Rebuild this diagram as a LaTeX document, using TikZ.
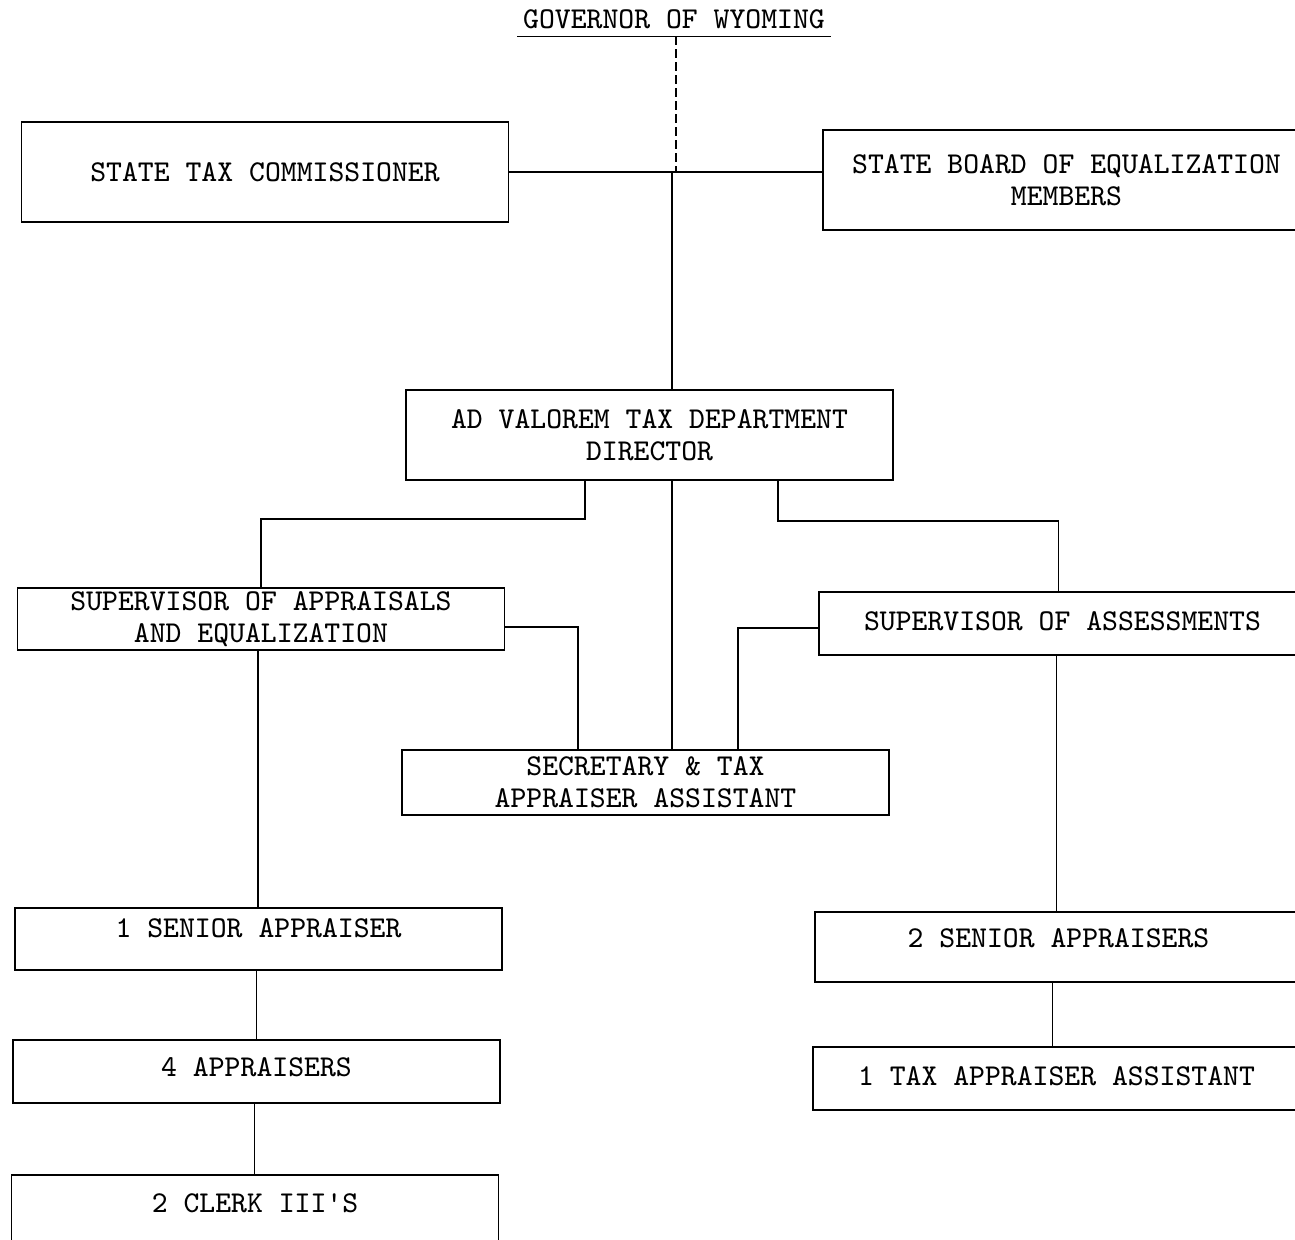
\documentclass[tikz,border=0pt]{standalone}
\usepackage{tikz}
\usetikzlibrary{calc,positioning}
\tikzset{
  org/.style={rectangle,draw=black,line width=0.45pt,minimum width=4.87cm,inner sep=0pt,align=center,font=\ttfamily\fontsize{8.6}{9}\selectfont},
  lift/.style={text depth=#1},
  link/.style={line width=0.45pt,black},
  dot/.style={line width=0.55pt,black,dash pattern=on 2.4pt off 1.3pt},
}
\begin{document}
\begin{tikzpicture}[x=0.01cm,y=-0.01cm]
  \useasboundingbox (0,0) rectangle (1295,1239);
  \clip (0,0) rectangle (1295,1239);
  \node[font=\ttfamily\fontsize{8.6}{9}\selectfont,inner xsep=1.5pt,inner ysep=2pt](gov) at (674,19){GOVERNOR OF WYOMING};
  \draw[link] (gov.south west)--(gov.south east);
  \node[org,minimum height=1cm](stc) at (265,172){STATE TAX COMMISSIONER};
  \node[org,minimum height=1cm](sbe) at (1066.5,180){STATE BOARD OF EQUALIZATION\\MEMBERS};
  \node[org,minimum height=0.9cm](dir) at (649.5,435){AD VALOREM TAX DEPARTMENT\\DIRECTOR};
  \node[org,minimum height=0.62cm](sa) at (261,619){SUPERVISOR OF APPRAISALS\\AND EQUALIZATION};
  \node[org,minimum height=0.63cm,lift=1.2pt](ss) at (1062.5,623.5){SUPERVISOR OF ASSESSMENTS};
  \node[org,minimum height=0.65cm](sec) at (645.5,782.5){SECRETARY \& TAX\\APPRAISER ASSISTANT};
  \node[org,minimum height=0.62cm,lift=6.2pt](sen1) at (258.5,939){1 SENIOR APPRAISER};
  \node[org,minimum height=0.63cm,lift=2.8pt](app4) at (256.5,1071.5){4 APPRAISERS};
  \node[org,minimum height=0.7cm,lift=4pt](clk) at (255,1210){2 CLERK III'S};
  \node[org,minimum height=0.7cm,lift=5pt](sen2) at (1058.5,947){2 SENIOR APPRAISERS};
  \node[org,minimum height=0.63cm,lift=1.2pt](tax1) at (1056.5,1078.5){1 TAX APPRAISER ASSISTANT};
  \coordinate (j) at (672,172);
  % governor and the two boards
  \draw[dot] ([xshift=0.2mm]gov.south) -- ([xshift=0.2mm]gov.south |- j);
  \draw[link] (stc.east) -- (stc.east -| sbe.west);
  \draw[link] (j) -- (j |- dir.north);
  % below the director
  \draw[link] ([xshift=-6.45mm]dir.south) -- ++(0,38) -| (sa.north);
  \draw[link] (dir.south -| j) -- (sec.north -| j);
  \draw[link] ([xshift=12.85mm]dir.south) -- ++(0,40) -| ([xshift=-0.4mm]ss.north);
  \draw[link] ([yshift=-0.8mm]sa.east) -| ([xshift=-6.75mm]sec.north);
  \draw[link] ([yshift=-0.45mm]ss.west) -| ([xshift=9.25mm]sec.north);
  % staff columns
  \draw[link] ([xshift=-0.3mm]sa.south) -- ([xshift=-0.3mm]sa.south |- sen1.north);
  \draw[link] ([xshift=-0.2mm]sen1.south) -- ([xshift=-0.2mm]sen1.south |- app4.north);
  \draw[link] ([xshift=-0.2mm]app4.south) -- ([xshift=-0.2mm]app4.south |- clk.north);
  \draw[link] ([xshift=-0.6mm]ss.south) -- ([xshift=-0.6mm]ss.south |- sen2.north);
  \draw[link] ([xshift=-0.6mm]sen2.south) -- ([xshift=-0.6mm]sen2.south |- tax1.north);
\end{tikzpicture}
\end{document}
